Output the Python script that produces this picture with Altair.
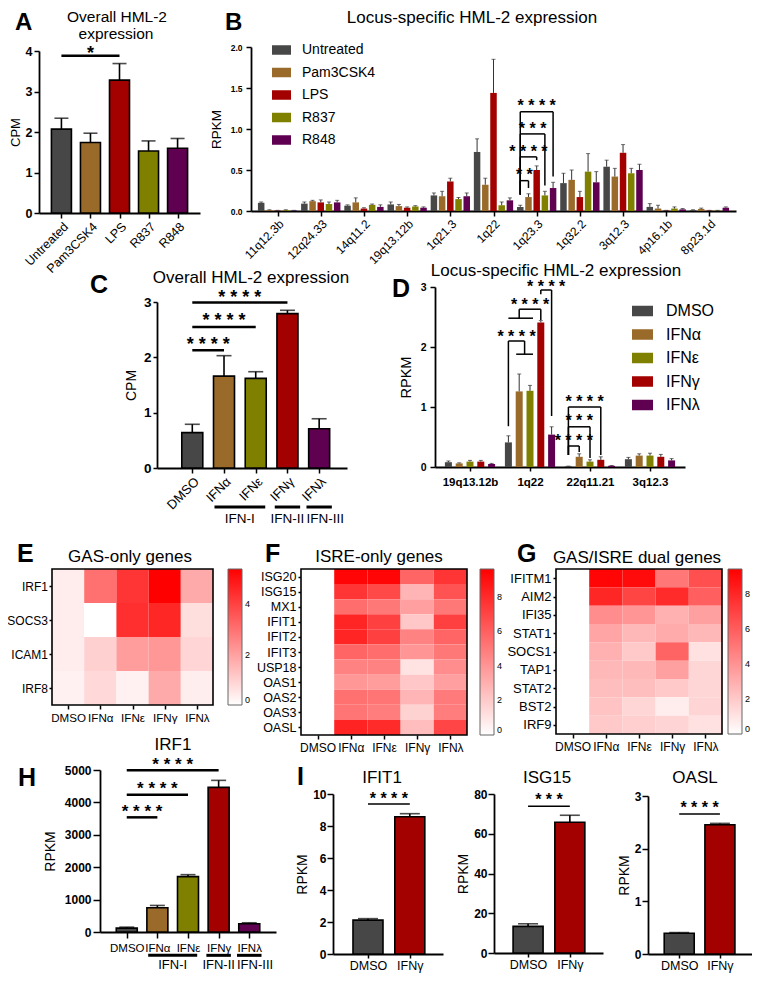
import json
import altair as alt
import pandas as pd

FONT = "Liberation Sans"
W, H = 744, 966
SH = 7  # lift of the bottom row so that it fits the page


def X(x):
    return x - 8


def Y(y):
    return y - 8


def YB(y):
    return y - 8 - SH


# ---------------- data ----------------
TLR_groups = ["Untreated", "Pam3CSK4", "LPS", "R837", "R848"]
TLR_colors = ["#474747", "#9a6a2b", "#a30000", "#808000", "#5f0050"]
IFN_groups = ["DMSO", "IFNα", "IFNε", "IFNγ", "IFNλ"]
IFN_colors = ["#474747", "#9a6a2b", "#808000", "#a30000", "#5f0050"]
IFN_families = ["IFN-I", "IFN-II", "IFN-III"]
FAM_first = [1, 3, 4]
FAM_last = [2, 3, 4]

# A
A_mean = [2.07, 1.74, 3.28, 1.53, 1.60]
A_err = [0.27, 0.23, 0.41, 0.25, 0.24]
A_sig_to = [2]
A_sig_level = [3.88]
A_sig_text = [4.04]
A_sig_label = ["*"]

# B
B_loci = ["11q12.3b", "12q24.33", "14q11.2", "19q13.12b", "1q21.3", "1q22",
          "1q23.3", "1q32.2", "3q12.3", "4p16.1b", "8p23.1d"]
B_untreated = [0.10, 0.09, 0.065, 0.08, 0.19, 0.72, 0.05, 0.34, 0.54, 0.05, 0.01]
B_untreated_err = [0.01, 0.02, 0.01, 0.03, 0.03, 0.16, 0.02, 0.12, 0.08, 0.04, 0.005]
B_pam3csk4 = [0.01, 0.12, 0.105, 0.06, 0.18, 0.32, 0.17, 0.38, 0.42, 0.03, 0.025]
B_pam3csk4_err = [0.005, 0.01, 0.055, 0.02, 0.06, 0.08, 0.04, 0.12, 0.10, 0.04, 0.01]
B_lps = [0.005, 0.105, 0.03, 0.04, 0.36, 1.44, 0.50, 0.17, 0.71, 0.005, 0.005]
B_lps_err = [0.003, 0.03, 0.01, 0.01, 0.04, 0.41, 0.05, 0.07, 0.10, 0.003, 0.003]
B_r837 = [0.01, 0.085, 0.075, 0.055, 0.145, 0.07, 0.19, 0.48, 0.46, 0.03, 0.005]
B_r837_err = [0.005, 0.025, 0.01, 0.01, 0.02, 0.04, 0.05, 0.22, 0.06, 0.02, 0.003]
B_r848 = [0.005, 0.105, 0.05, 0.04, 0.18, 0.13, 0.28, 0.35, 0.50, 0.02, 0.04]
B_r848_err = [0.003, 0.025, 0.025, 0.01, 0.04, 0.03, 0.07, 0.13, 0.07, 0.01, 0.01]
B_cmp_locus = "1q23.3"
B_cmp_to = [1, 2, 3, 4]
B_cmp_level = [0.37, 0.66, 0.94, 1.21]
B_cmp_text = [0.49, 0.77, 1.05, 1.33]
B_cmp_label = ["**", "****", "***", "****"]

# C
C_mean = [0.64, 1.66, 1.62, 2.79, 0.71]
C_err = [0.15, 0.37, 0.12, 0.06, 0.18]
C_sig_to = [1, 2, 3]
C_sig_level = [2.13, 2.55, 2.99]
C_sig_text = [2.31, 2.75, 3.17]
C_sig_label = ["****", "****", "****"]

# D
D_loci = ["19q13.12b", "1q22", "22q11.21", "3q12.3"]
D_dmso = [0.08, 0.41, 0.01, 0.13]
D_dmso_err = [0.02, 0.11, 0.005, 0.03]
D_ifna = [0.06, 1.26, 0.17, 0.19]
D_ifna_err = [0.01, 0.29, 0.05, 0.03]
D_ifne = [0.09, 1.27, 0.09, 0.19]
D_ifne_err = [0.02, 0.09, 0.03, 0.04]
D_ifng = [0.09, 2.41, 0.12, 0.17]
D_ifng_err = [0.02, 0.03, 0.05, 0.04]
D_ifnl = [0.05, 0.54, 0.02, 0.11]
D_ifnl_err = [0.01, 0.13, 0.005, 0.03]
D_1q22_levels = [2.10, 1.88, 2.48, 2.63, 2.95]   # bracket levels
D_1q22_text = [2.23, 2.77, 3.06]
D_22q_to = [1, 2, 3]
D_22q_level = [0.35, 0.67, 1.0]
D_22q_text = [0.5, 0.83, 1.15]
D_22q_label = ["****", "***", "****"]

# E / F / G heatmaps
E_genes = ["IRF1", "SOCS3", "ICAM1", "IRF8"]
E_vals = [[0.4, 3.0, 4.3, 5.4, 1.8],
          [0.4, 0.0, 4.4, 4.6, 0.7],
          [0.4, 1.0, 2.1, 2.2, 0.9],
          [0.3, 0.8, 0.3, 1.8, 0.35]]
F_genes = ["ISG20", "ISG15", "MX1", "IFIT1", "IFIT2", "IFIT3", "USP18", "OAS1", "OAS2", "OAS3", "OASL"]
F_vals = [[0, 9.4, 9.4, 5.8, 7.6],
          [0, 7.6, 6.9, 2.8, 6.5],
          [0, 5.5, 5.1, 3.6, 5.1],
          [0, 8.2, 7.2, 2.1, 7.2],
          [0, 8.2, 7.2, 4.7, 5.8],
          [0, 5.8, 5.5, 4.0, 5.1],
          [0, 4.7, 4.7, 1.1, 4.3],
          [0, 3.9, 3.7, 2.1, 3.6],
          [0, 5.4, 5.2, 2.8, 5.0],
          [0, 5.2, 4.9, 1.7, 4.9],
          [0, 8.3, 8.0, 2.5, 7.0]]
G_genes = ["IFITM1", "AIM2", "IFI35", "STAT1", "SOCS1", "TAP1", "STAT2", "BST2", "IRF9"]
G_vals = [[0, 9.2, 9.0, 5.0, 6.5],
          [0, 8.0, 6.9, 7.8, 5.9],
          [0, 4.2, 3.9, 2.9, 3.5],
          [0, 3.3, 2.6, 3.1, 2.6],
          [0, 2.9, 2.0, 5.7, 1.1],
          [0, 2.6, 2.6, 3.5, 1.5],
          [0, 2.4, 2.4, 2.0, 1.5],
          [0, 2.2, 1.5, 0.7, 1.6],
          [0, 2.0, 1.8, 1.6, 1.1]]

# H
H_mean = [120, 750, 1710, 4465, 255]
H_err = [30, 70, 60, 215, 30]
H_sig_to = [1, 2, 3]
H_sig_level = [3539, 4238, 4990]
H_sig_text = [3848, 4567, 5299]
H_sig_label = ["****", "****", "****"]

# I
I_genes = ["IFIT1", "ISG15", "OASL"]
I_groups = ["DMSO", "IFNγ"]
I_colors = ["#474747", "#a30000"]
I_mean = [[2.12, 8.58], [13.4, 65.8], [0.394, 2.454]]
I_err = [[0.09, 0.19], [1.3, 3.5], [0.013, 0.026]]
I_ticks = [[0, 2, 4, 6, 8, 10], [0, 20, 40, 60, 80], [0, 1, 2, 3]]
I_sig_level = [9.375, 73.8, 2.66]
I_sig_text = [9.96, 78.8, 2.85]
I_sig_label = ["****", "***", "****"]


# ---------------- helpers ----------------
def stars(s):
    return " ".join(s)


def scale(dom, rng):
    return alt.Scale(domain=dom, range=rng, nice=False, zero=False)


def axis(orient, at, values, fs, bold=False, title=None, tfs=14, tick=5, lpad=2, tpad=5,
         angle=None, labels=None, floor=False, fmt=None, domain=True):
    off = -at if orient == "left" else at - H
    kw = dict(orient=orient, offset=off, values=values, labelFont=FONT, labelFontSize=fs,
              labelFontWeight="bold" if bold else "normal", labelColor="black",
              tickSize=tick, tickWidth=1.5, tickColor="black", labelPadding=lpad,
              domain=domain, domainColor="black", domainWidth=1.8, grid=False,
              labelFlush=False, labelOverlap=False, title=title)
    if title is not None:
        kw.update(titleFont=FONT, titleFontSize=tfs, titleFontWeight="normal",
                  titleColor="black", titlePadding=tpad)
    if angle is not None:
        kw["labelAngle"] = angle
    if labels is not None:
        idx = "floor(datum.value)" if floor else "round(datum.value)"
        kw["labelExpr"] = json.dumps(labels, ensure_ascii=False) + "[" + idx + "]"
    if fmt is not None:
        kw["format"] = fmt
    return alt.Axis(**kw)


class Panel:
    """Shared scales and axes of one sub-figure (every layer uses the same ones)."""

    def __init__(self, sx, sy, xa, ya):
        self.sx, self.sy, self.xa, self.ya = sx, sy, xa, ya

    def x(self, f):
        return alt.X(f + ":Q", scale=self.sx, axis=self.xa)

    def y(self, f):
        return alt.Y(f + ":Q", scale=self.sy, axis=self.ya)


def simple_bars(P, means, errs, colors, bw, capw, lw=1.6):
    df = pd.DataFrame({"pos": list(range(len(means))), "mean": means,
                       "top": [m + e for m, e in zip(means, errs)],
                       "base": [0.0] * len(means), "color": colors})
    b = alt.Chart(df)
    bars = b.mark_bar(size=bw, stroke="black", strokeWidth=lw, orient="vertical").encode(
        x=P.x("pos"), y=P.y("mean"), y2=alt.Y2("base"), color=alt.Color("color:N", scale=None))
    err = b.mark_rule(color="black", strokeWidth=lw).encode(
        x=P.x("pos"), y=P.y("mean"), y2=alt.Y2("top"))
    cap = b.mark_tick(orient="horizontal", size=capw, thickness=lw, color="black").encode(
        x=P.x("pos"), y=P.y("top"))
    return [bars, err, cap]


def grouped_bars(P, series_vals, series_errs, names, colors, step, bw, capw, legend):
    rows = []
    for s, (vals, errs) in enumerate(zip(series_vals, series_errs)):
        for c, (v, e) in enumerate(zip(vals, errs)):
            rows.append({"pos": c + (s - 2) * step, "mean": v, "top": v + e,
                         "base": 0.0, "grp": names[s]})
    df = pd.DataFrame(rows)
    b = alt.Chart(df)
    bars = b.mark_bar(size=bw, orient="vertical").encode(
        x=P.x("pos"), y=P.y("mean"), y2=alt.Y2("base"),
        color=alt.Color("grp:N", scale=alt.Scale(domain=names, range=colors), legend=legend))
    err = b.mark_rule(color="#333333", strokeWidth=1).encode(
        x=P.x("pos"), y=P.y("mean"), y2=alt.Y2("top"))
    cap = b.mark_tick(orient="horizontal", size=capw, thickness=1, color="#333333").encode(
        x=P.x("pos"), y=P.y("top"))
    return [bars, err, cap]


def star_text(P, xs, ys, labels, fs):
    df = pd.DataFrame({"x": xs, "y": ys, "lab": [stars(l) for l in labels]})
    return alt.Chart(df).mark_text(font=FONT, fontSize=fs, fontWeight="bold", baseline="alphabetic",
                                   dy=0.56 * fs, color="black").encode(
        x=P.x("x"), y=P.y("y"), text="lab:N")


def sig_lines(P, frm, tos, levels, tlevels, labels, lw, fs):
    df = pd.DataFrame({"x1": [frm] * len(tos), "x2": tos, "lev": levels})
    line = alt.Chart(df).mark_rule(color="black", strokeWidth=lw).encode(
        x=P.x("x1"), x2=alt.X2("x2"), y=P.y("lev"))
    txt = star_text(P, [(frm + t) / 2 for t in tos], tlevels, labels, fs)
    return [line, txt]


def seg_layer(P, segs, lw):
    df = pd.DataFrame(segs, columns=["x1", "x2", "y1", "y2"])
    return alt.Chart(df).mark_rule(color="black", strokeWidth=lw).encode(
        x=P.x("x1"), x2=alt.X2("x2"), y=P.y("y1"), y2=alt.Y2("y2"))


def families(P, line_y, text_y, fs, lw):
    """Treatment-family bars under the axis: the last family label starts at its line."""
    half = [0.3 if f != l else 0.4 for f, l in zip(FAM_first, FAM_last)]
    x1 = [f - h for f, h in zip(FAM_first, half)]
    x2 = [l + h for l, h in zip(FAM_last, half)]
    df = pd.DataFrame({"x1": x1, "x2": x2, "xm": [(a + b) / 2 for a, b in zip(x1, x2)],
                       "lab": IFN_families, "ly": [line_y] * 3, "ty": [text_y] * 3})
    c = alt.Chart(df)
    line = c.mark_rule(color="black", strokeWidth=lw).encode(
        x=P.x("x1"), x2=alt.X2("x2"), y=P.y("ly"))
    txt_c = alt.Chart(df.iloc[:-1]).mark_text(font=FONT, fontSize=fs, baseline="alphabetic",
                                              color="black").encode(
        x=P.x("xm"), y=P.y("ty"), text="lab:N")
    txt_l = alt.Chart(df.iloc[-1:]).mark_text(font=FONT, fontSize=fs, baseline="alphabetic",
                                              align="left", color="black").encode(
        x=P.x("x1"), y=P.y("ty"), text="lab:N")
    return [line, txt_c, txt_l]


def heat_panel(genes, vals, x0, x1, y0, y1, vmax, cbx, ticks, gfs, gtick, gpad, xfs=12):
    n = len(genes)
    rows = []
    for i in range(n):
        for j in range(len(IFN_groups)):
            rows.append({"c": j, "c2": j + 1, "r": i, "r2": i + 1, "v": vals[i][j]})
    df = pd.DataFrame(rows)
    P = Panel(scale([0, 5], [X(x0), X(x1)]), scale([0, n], [Y(y0), Y(y1)]),
              axis("bottom", Y(y1), [j + 0.5 for j in range(5)], xfs, labels=IFN_groups,
                   floor=True, tick=4, lpad=3, domain=False),
              axis("left", X(x0), [i + 0.5 for i in range(n)], gfs, labels=genes, floor=True,
                   tick=gtick, lpad=gpad, domain=False))
    legend = alt.Legend(orient="none", legendX=X(cbx), legendY=Y(y0), title=None,
                        direction="vertical", gradientLength=y1 - y0, gradientThickness=14,
                        values=ticks, labelFont=FONT, labelFontSize=9, labelColor="black",
                        labelOffset=3, gradientStrokeColor="#666666", gradientStrokeWidth=1,
                        padding=0)
    cells = alt.Chart(df).mark_rect().encode(
        x=P.x("c"), x2=alt.X2("c2"), y=P.y("r"), y2=alt.Y2("r2"),
        color=alt.Color("v:Q", scale=alt.Scale(domain=[0, vmax], range=["#ffffff", "#ff0000"],
                                               interpolate="rgb"), legend=legend))
    frame = alt.Chart(pd.DataFrame({"c": [0], "c2": [5], "r": [0], "r2": [n]})).mark_rect(
        fillOpacity=0, stroke="black", strokeWidth=1.6).encode(
        x=P.x("c"), x2=alt.X2("c2"), y=P.y("r"), y2=alt.Y2("r2"))
    return alt.layer(cells, frame)


def label(text, x, y, size=17, weight="normal", align="center", yf=Y):
    return alt.Chart(pd.DataFrame({"t": [text]})).mark_text(
        font=FONT, fontSize=size, fontWeight=weight, align=align, baseline="alphabetic",
        color="black").encode(x=alt.value(X(x)), y=alt.value(yf(y)), text="t:N")


layers = []

# ---------- Panel A ----------
PA = Panel(scale([-0.6, 4.6], [X(39), X(200)]), scale([0, 4], [Y(213), Y(51)]),
           axis("bottom", Y(213), list(range(5)), 12.5, angle=315, labels=TLR_groups,
                tick=5, lpad=2),
           axis("left", X(39), [0, 1, 2, 3, 4], 12.5, bold=True, title="CPM", tfs=13,
                tick=5, lpad=2, tpad=3))
layers.append(alt.layer(
    *simple_bars(PA, A_mean, A_err, TLR_colors, 20, 14),
    *sig_lines(PA, 0, A_sig_to, A_sig_level, A_sig_text, A_sig_label, 2.5, 18)))

# ---------- Panel B ----------
B_step = 0.19
PB = Panel(scale([-0.5, 10.5], [X(251), X(736)]), scale([0, 2], [Y(211), Y(47)]),
           axis("bottom", Y(211), list(range(11)), 12, angle=315, labels=B_loci, tick=5, lpad=2),
           axis("left", X(251), [0, 0.5, 1.0, 1.5, 2.0], 8.5, bold=True, title="RPKM",
                tfs=13.5, tick=5, lpad=4, tpad=7, fmt=".1f"))
B_vals = [B_untreated, B_pam3csk4, B_lps, B_r837, B_r848]
B_errs = [B_untreated_err, B_pam3csk4_err, B_lps_err, B_r837_err, B_r848_err]
B_legend = alt.Legend(orient="none", legendX=X(272), legendY=Y(40.5), title=None,
                      direction="vertical", symbolType="M-1,-0.5H1V0.5H-1Z", symbolSize=361,
                      symbolStrokeWidth=0, symbolOpacity=1, labelFont=FONT, labelFontSize=14,
                      labelColor="black", labelOffset=11, rowPadding=5.5, padding=0)
bc = B_loci.index(B_cmp_locus)
pB = lambda s: bc + (s - 2) * B_step
topB = lambda s: B_vals[s][bc] + B_errs[s][bc]
B_segs = []
for t, lev in zip(B_cmp_to, B_cmp_level):
    B_segs.append((pB(0), pB(t), lev, lev))
    B_segs.append((pB(0), pB(0), topB(0) + 0.13, lev))
    B_segs.append((pB(t), pB(t), topB(t) + 0.07, lev))
layers.append(alt.layer(
    *grouped_bars(PB, B_vals, B_errs, TLR_groups, TLR_colors, B_step, 6.5, 4, B_legend),
    seg_layer(PB, B_segs, 1.5),
    star_text(PB, [(pB(0) + pB(t)) / 2 for t in B_cmp_to], B_cmp_text, B_cmp_label, 16)))

# ---------- Panel C ----------
PC = Panel(scale([-0.955, 4.72], [X(157), X(347)]), scale([0, 3], [Y(468), Y(302)]),
           axis("bottom", Y(468), list(range(5)), 13, angle=315, labels=IFN_groups, tick=5, lpad=2),
           axis("left", X(157), [0, 1, 2, 3], 13.5, bold=True, title="CPM", tfs=14,
                tick=4, lpad=2, tpad=5))
layers.append(alt.layer(
    *simple_bars(PC, C_mean, C_err, IFN_colors, 21, 15),
    *sig_lines(PC, 0, C_sig_to, C_sig_level, C_sig_text, C_sig_label, 2.5, 18),
    *families(PC, -0.705, -0.994, 13.5, 3)))

# ---------- Panel D ----------
D_step = 0.18
PD = Panel(scale([-0.5, 3.5], [X(435), X(685)]), scale([0, 3], [Y(467), Y(287)]),
           axis("bottom", Y(467), list(range(4)), 11.5, bold=True, labels=D_loci, tick=4, lpad=5),
           axis("left", X(435), [0, 1, 2, 3], 10.5, bold=True, title="RPKM", tfs=14.5,
                tick=5, lpad=4, tpad=7))
D_vals = [D_dmso, D_ifna, D_ifne, D_ifng, D_ifnl]
D_errs = [D_dmso_err, D_ifna_err, D_ifne_err, D_ifng_err, D_ifnl_err]
D_legend = alt.Legend(orient="none", legendX=X(632), legendY=Y(300.5), title=None,
                      direction="vertical", symbolType="M-1,-0.5H1V0.5H-1Z", symbolSize=441,
                      symbolStrokeWidth=0, symbolOpacity=1, labelFont=FONT, labelFontSize=16,
                      labelColor="black", labelOffset=13, rowPadding=4.5, padding=0)
pD = lambda c, s: c + (s - 2) * D_step
topD = lambda c, s: D_vals[s][c] + D_errs[s][c]
c1 = D_loci.index("1q22")
b1_hi, b1_lo, b2_lo, b2_hi, b3 = D_1q22_levels
m12 = (pD(c1, 1) + pD(c1, 2)) / 2
m02 = (pD(c1, 0) + pD(c1, 2)) / 2
ext = 0.05
D_segs = [
    (pD(c1, 0), pD(c1, 0), topD(c1, 0) + 0.16, b1_hi),
    (pD(c1, 0), m12, b1_hi, b1_hi),
    (m12, m12, b1_lo, b1_hi),
    (pD(c1, 1) - ext, pD(c1, 2) + ext, b1_lo, b1_lo),
    (pD(c1, 0), pD(c1, 2) + ext, b2_lo, b2_lo),
    (m02, m02, b2_lo, b2_hi),
    (m02, pD(c1, 3), b2_hi, b2_hi),
    (pD(c1, 3), pD(c1, 3), topD(c1, 3) + 0.01, b2_hi),
    (pD(c1, 3), pD(c1, 4), b3, b3),
    (pD(c1, 3), pD(c1, 3), b3 - 0.07, b3),
    (pD(c1, 4), pD(c1, 4), topD(c1, 4) + 0.18, b3),
]
c2 = D_loci.index("22q11.21")
for t, lev in zip(D_22q_to, D_22q_level):
    D_segs.append((pD(c2, 0), pD(c2, t), lev, lev))
    D_segs.append((pD(c2, 0), pD(c2, 0), 0.2, lev))
    D_segs.append((pD(c2, t), pD(c2, t), topD(c2, t) + 0.03, lev))
D_tx = [(pD(c1, 0) + m12) / 2, (m02 + pD(c1, 3)) / 2, (pD(c1, 3) + pD(c1, 4)) / 2] + \
       [(pD(c2, 0) + pD(c2, t)) / 2 for t in D_22q_to]
D_ty = D_1q22_text + D_22q_text
D_tl = ["****", "****", "****"] + D_22q_label
layers.append(alt.layer(
    *grouped_bars(PD, D_vals, D_errs, IFN_groups, IFN_colors, D_step, 7, 4, D_legend),
    seg_layer(PD, D_segs, 1.5),
    star_text(PD, D_tx, D_ty, D_tl, 16)))

# ---------- Panels E, F, G ----------
layers.append(heat_panel(E_genes, E_vals, 52, 213, 569, 705, 5.4, 228, [0, 2, 4], 12, 3, 1.5, 11.6))
layers.append(heat_panel(F_genes, F_vals, 301, 467, 569, 735, 9.6, 480, [0, 2, 4, 6, 8], 12.5, 3, 2))
layers.append(heat_panel(G_genes, G_vals, 556, 722, 569, 734, 9.4, 728, [0, 2, 4, 6, 8], 13, 3, 2))

# ---------- Panel H ----------
PH = Panel(scale([-0.71, 4.71], [X(100), X(276)]), scale([0, 5000], [YB(939), YB(777)]),
           axis("bottom", YB(939), list(range(5)), 11.5, labels=IFN_groups, tick=6, lpad=4),
           axis("left", X(100), [0, 1000, 2000, 3000, 4000, 5000], 12, bold=True,
                title="RPKM", tfs=14, tick=7, lpad=2, tpad=7, fmt="d"))
layers.append(alt.layer(
    *simple_bars(PH, H_mean, H_err, IFN_colors, 21, 15),
    *sig_lines(PH, 0, H_sig_to, H_sig_level, H_sig_text, H_sig_label, 2.5, 17),
    *families(PH, -720, -1150, 13, 3)))

# ---------- Panel I ----------
I_xdom = [[-0.717, 1.674], [-0.696, 1.674], [-0.644, 1.69]]
I_xr = [[333, 443], [494, 603], [648, 753]]
I_yr = [[961, 801], [960, 801], [961, 803]]
for k in range(3):
    PI = Panel(scale(I_xdom[k], [X(I_xr[k][0]), X(I_xr[k][1])]),
               scale([0, I_ticks[k][-1]], [YB(I_yr[k][0]), YB(I_yr[k][1])]),
               axis("bottom", YB(I_yr[k][0]), [0, 1], 12.5, labels=I_groups, tick=4, lpad=1),
               axis("left", X(I_xr[k][0]), I_ticks[k], 12, bold=True, title="RPKM",
                    tfs=14, tick=6, lpad=1, tpad=3))
    layers.append(alt.layer(
        *simple_bars(PI, I_mean[k], I_err[k], I_colors, 30, 20),
        *sig_lines(PI, 0, [1], [I_sig_level[k]], [I_sig_text[k]], [I_sig_label[k]], 1.5, 16)))

# ---------- titles and panel letters ----------
layers += [
    label("A", 15, 29.5, 24, "bold", "left"),
    label("Overall HML-2", 117, 21.5, 15.5),
    label("expression", 116, 39, 15.5),
    label("B", 225, 29.5, 24, "bold", "left"),
    label("Locus-specific HML-2 expression", 472, 22.5),
    label("C", 90, 293, 25, "bold", "left"),
    label("Overall HML-2 expression", 251, 283),
    label("D", 392, 297, 25, "bold", "left"),
    label("Locus-specific HML-2 expression", 556, 275.5),
    label("E", 17, 562, 25, "bold", "left"),
    label("GAS-only genes", 130, 562),
    label("F", 265, 562, 25, "bold", "left"),
    label("ISRE-only genes", 379, 562),
    label("G", 517, 562, 25, "bold", "left"),
    label("GAS/ISRE dual genes", 637, 563),
    label("H", 18, 793, 25, "bold", "left", YB),
    label("IRF1", 173, 757, 17, yf=YB),
    label("I", 297, 792, 25, "bold", "left", YB),
    label("IFIT1", 382, 790, 17, yf=YB),
    label("ISG15", 547, 790, 17, yf=YB),
    label("OASL", 695, 790, 17, yf=YB),
]

chart = (alt.layer(*layers)
         .resolve_scale(x="independent", y="independent", color="independent")
         .resolve_axis(x="independent", y="independent")
         .resolve_legend(color="independent")
         .properties(width=W, height=H, padding=0, autosize=alt.AutoSizeParams(type="none"))
         .configure(font=FONT)
         .configure_view(stroke=None))

chart.save("out.html", embed_options={"renderer": "svg", "actions": False})
